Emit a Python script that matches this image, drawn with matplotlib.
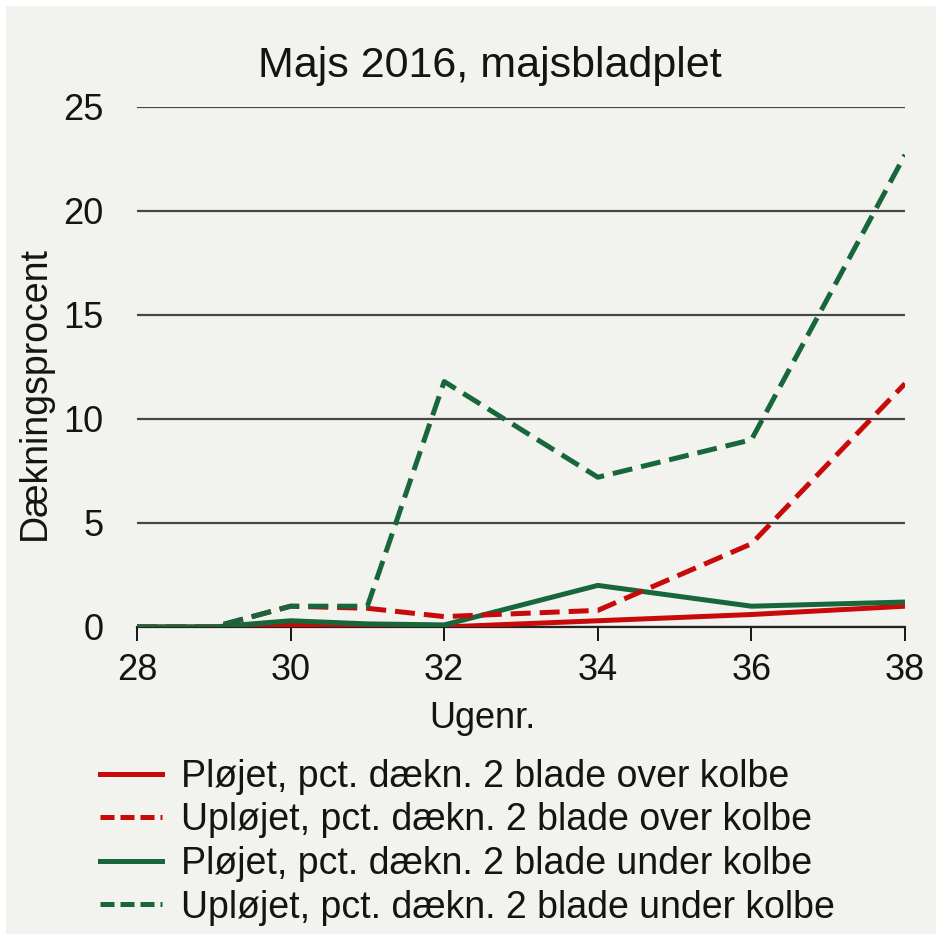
import matplotlib
matplotlib.use("Agg")
import matplotlib.pyplot as plt
from matplotlib.lines import Line2D

plt.rcParams['font.family'] = ['Liberation Sans', 'DejaVu Sans']

weeks = [28, 29, 30, 31, 32, 34, 36, 38]
ploejet_over = [0, 0, 0.1, 0.05, 0.0, 0.3, 0.6, 1.0]
uploejet_over = [0, 0, 1.0, 0.9, 0.5, 0.8, 4.0, 11.7]
ploejet_under = [0, 0, 0.3, 0.15, 0.1, 2.0, 1.0, 1.2]
uploejet_under = [0, 0, 1.0, 1.0, 11.8, 7.2, 9.0, 22.7]

labels = [
    "Pløjet, pct. dækn. 2 blade over kolbe",
    "Upløjet, pct. dækn. 2 blade over kolbe",
    "Pløjet, pct. dækn. 2 blade under kolbe",
    "Upløjet, pct. dækn. 2 blade under kolbe",
]
xticks = [28, 30, 32, 34, 36, 38]
yticks = [0, 5, 10, 15, 20, 25]

RED = "#c80a0a"
GREEN = "#17673a"
BG = "#f2f2ee"
TXT = "#141414"

fig = plt.figure(figsize=(9.36, 9.34), dpi=100)
fig.patch.set_facecolor("white")
fig.patches.append(plt.Rectangle((6/936, 0), 1, 1 - 6/934, transform=fig.transFigure,
                                 facecolor=BG, edgecolor="none", zorder=-10))

ax = fig.add_axes([137/936, 1 - 627/934, (905 - 137)/936, (627 - 107)/934])
ax.patch.set_alpha(0)

lw = 3.6
dash = (4.0, 1.8)
ax.plot(weeks, ploejet_over, color=RED, lw=lw, solid_capstyle="butt", zorder=3)
ax.plot(weeks, uploejet_over, color=RED, lw=lw, dashes=dash, zorder=4)
ax.plot(weeks, ploejet_under, color=GREEN, lw=lw, solid_capstyle="butt", zorder=3)
ax.plot(weeks, uploejet_under, color=GREEN, lw=lw, dashes=dash, zorder=4)

ax.set_xlim(28, 38)
ax.set_ylim(0, 25)
ax.set_xticks(xticks)
ax.set_yticks(yticks)
ax.yaxis.grid(True, color="#454545", lw=1.6)
ax.set_axisbelow(True)
for s in ["left", "right", "top"]:
    ax.spines[s].set_visible(False)
ax.spines["bottom"].set_color("#222222")
ax.spines["bottom"].set_linewidth(1.6)
ax.spines["bottom"].set_zorder(2)
ax.tick_params(axis="y", length=0, labelsize=26, pad=24, colors=TXT)
ax.tick_params(axis="x", length=10, width=1.4, direction="out", labelsize=26, pad=9,
               colors=TXT)

fig.text(490/936, 1 - 66/934, "Majs 2016, majsbladplet", ha="center", va="center",
         fontsize=31, color=TXT)
fig.text(35/936, 1 - 393/934, "Dækningsprocent", rotation=90, ha="center", va="center",
         fontsize=27, color=TXT)
fig.text(482/936, 1 - 719/934, "Ugenr.", ha="center", va="center",
         fontsize=26, color=TXT)

handles = [
    Line2D([], [], color=RED, lw=lw),
    Line2D([], [], color=RED, lw=lw, dashes=(2.8, 1.2)),
    Line2D([], [], color=GREEN, lw=lw),
    Line2D([], [], color=GREEN, lw=lw, dashes=(2.8, 1.2)),
]
fig.legend(handles, labels, loc="upper left", bbox_to_anchor=(100/936, 1 - 759/934),
           frameon=False, fontsize=27, handlelength=1.65, handletextpad=0.5,
           labelspacing=0.2, borderpad=0, borderaxespad=0, labelcolor=TXT)

fig.savefig("out.png", dpi=100, facecolor=fig.get_facecolor())
